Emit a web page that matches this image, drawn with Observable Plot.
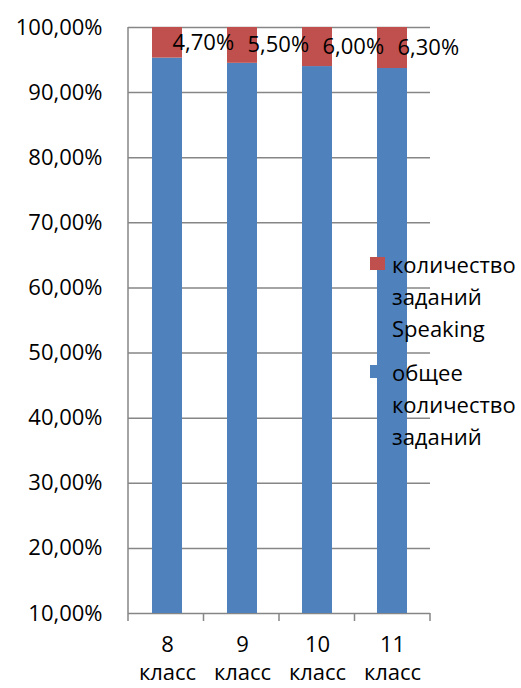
<!DOCTYPE html>
<html><head><meta charset="utf-8">
<script src="https://cdn.jsdelivr.net/npm/d3@7"></script>
<script src="https://cdn.jsdelivr.net/npm/@observablehq/plot@0.6"></script>
<style>
body{margin:0;background:#fff}
#wrap{position:relative;width:521px;height:688px;font-family:"Open Sans",sans-serif}
.legend{position:absolute;left:370px;top:248px;font-size:22px;line-height:32px;color:#000}
.item{position:relative;padding-left:22px;margin-bottom:12px}
.sw{position:absolute;left:0;top:9px;width:15px;height:13px}
</style></head><body><div id="wrap"></div>
<script>
const categories = ["8\nкласс", "9\nкласс", "10\nкласс", "11\nкласс"];
const speaking = [4.7, 5.5, 6.0, 6.3];
const total = [95.3, 94.5, 94.0, 93.7];
const seriesNames = ["количество заданий Speaking", "общее количество заданий"];
const seriesColors = ["#C0504D", "#4F81BD"];
const yTicks = [10, 20, 30, 40, 50, 60, 70, 80, 90, 100];

const fmt = d => d.toFixed(2).replace(".", ",") + "%";
const rows = categories.map((c, i) => ({cat: c, speaking: speaking[i], total: total[i]}));
const yMin = yTicks[0], yMax = yTicks[yTicks.length - 1];

const boundaryTicks = (index, scales, values, dims) => {
  const g = d3.create("svg:g");
  const x0 = dims.marginLeft, x1 = dims.width - dims.marginRight;
  const yb = dims.height - dims.marginBottom;
  const n = categories.length;
  for (let i = 0; i <= n; i++) {
    const x = x0 + (x1 - x0) * i / n;
    g.append("line").attr("x1", x).attr("x2", x).attr("y1", yb).attr("y2", yb + 8)
      .attr("stroke", "#868686").attr("stroke-width", 1.5);
  }
  g.append("line").attr("x1", x0).attr("x2", x0).attr("y1", dims.marginTop).attr("y2", yb)
    .attr("stroke", "#868686").attr("stroke-width", 1.5);
  return g.node();
};

const chart = Plot.plot({
  width: 521, height: 688,
  marginLeft: 128, marginRight: 91, marginTop: 27, marginBottom: 75,
  style: {fontFamily: "Open Sans", fontSize: "22px", color: "#000", background: "#fff"},
  x: {domain: categories, paddingInner: 0.6, paddingOuter: 0.3, axis: null},
  y: {domain: [yMin, yMax], axis: null},
  marks: [
    Plot.ruleY(yTicks, {stroke: "#868686", strokeWidth: 1.5, strokeOpacity: 1}),
    Plot.barY(rows, {x: "cat", y1: () => yMin, y2: "total", fill: seriesColors[1]}),
    Plot.barY(rows, {x: "cat", y1: "total", y2: d => d.total + d.speaking, fill: seriesColors[0]}),
    boundaryTicks,
    Plot.text(rows, {x: "cat", y: d => 100 - d.speaking / 2, text: d => fmt(d.speaking),
      textAnchor: "start", dx: 5, fill: "#000", fontSize: 22}),
    Plot.text(yTicks, {y: d => d, text: d => fmt(d), frameAnchor: "left", textAnchor: "end",
      dx: -26, fill: "#000", fontSize: 22}),
    Plot.text(categories, {x: d => d, text: d => d, frameAnchor: "bottom", lineAnchor: "top",
      dy: 18, lineHeight: 1.3, fill: "#000", fontSize: 22})
  ]
});
const wrap = document.getElementById("wrap");
wrap.appendChild(chart);

const legend = document.createElement("div");
legend.className = "legend";
seriesNames.forEach((name, i) => {
  const item = document.createElement("div");
  item.className = "item";
  const sw = document.createElement("span");
  sw.className = "sw";
  sw.style.background = seriesColors[i];
  const txt = document.createElement("div");
  txt.innerHTML = name.split(" ").join("<br>");
  item.appendChild(sw);
  item.appendChild(txt);
  legend.appendChild(item);
});
wrap.appendChild(legend);
</script></body></html>
